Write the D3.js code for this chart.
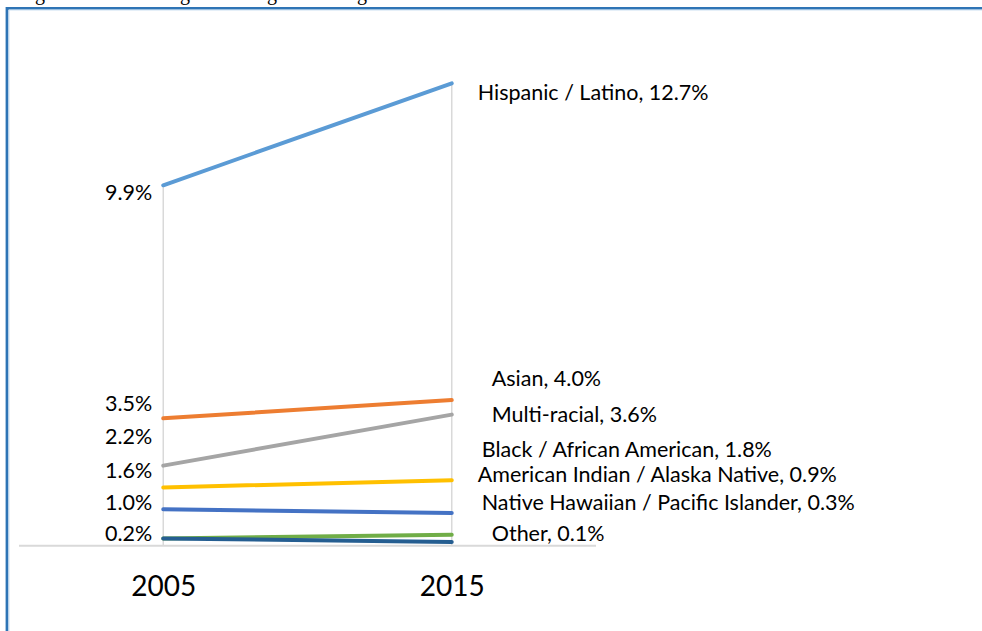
<!DOCTYPE html>
<html>
<head>
<meta charset="utf-8">
<script src="https://cdn.jsdelivr.net/npm/d3@7"></script>
<style>
  html, body { margin: 0; padding: 0; background: #fff; }
  svg { display: block; }
  text { font-family: Lato, "Open Sans", sans-serif; fill: #000; }
</style>
</head>
<body>
<svg id="chart"></svg>
<script>
// data
const years   = ['2005', '2015'];
const groups  = [
  'Hispanic / Latino',
  'Asian',
  'Multi-racial',
  'Black / African American',
  'American Indian / Alaska Native',
  'Native Hawaiian / Pacific Islander',
  'Other'
];
const values2005 = [9.9, 3.5, 2.2, 1.6, 1.0, 0.2, 0.2];
const values2015 = [12.7, 4.0, 3.6, 1.8, 0.9, 0.3, 0.1];

// look
const colors = ['#5b9bd5', '#ed7d31', '#a5a5a5', '#ffc000', '#4472c4', '#70ad47', '#255e91'];

// hand-placed label nudges (Excel moved them apart), in px
const leftNudge  = [7, -15, -29, -17, -7, -5, null];
const rightNudge = [
  {dx: 26, dy: 9},
  {dx: 40, dy: -22},
  {dx: 40, dy: 0},
  {dx: 30, dy: -31},
  {dx: 26, dy: -38},
  {dx: 30, dy: -32},
  {dx: 40, dy: -9}
];

const width  = 982;
const height = 631;

const svg = d3.select('#chart')
  .attr('width', width)
  .attr('height', height);

const series = groups.map((name, i) => ({
  name,
  color:  colors[i],
  points: [
    {year: years[0], v: values2005[i]},
    {year: years[1], v: values2015[i]}
  ]
}));

const x = d3.scalePoint().domain(years).range([19, 596]).padding(0.5);
const y = d3.scaleLinear().domain([0, 14]).range([545.7, 36]);

// cut-off line of the caption above the frame
svg.append('text')
  .attr('y', 0)
  .style('font-family', '"Liberation Serif", serif')
  .style('font-size', '20px')
  .selectAll('tspan')
  .data([35, 180, 267, 357])
  .join('tspan')
  .attr('x', d => d)
  .text('g');

// frame
svg.append('path')
  .attr('d', `M7,${height} V8.3 H${width}`)
  .attr('fill', 'none')
  .attr('stroke', '#2e74b5')
  .attr('stroke-width', 2.8);
svg.append('path')
  .attr('d', `M8.9,${height} V9.9 H${width}`)
  .attr('fill', 'none')
  .attr('stroke', '#bdd7ee')
  .attr('stroke-width', 1);

// drop lines from the top value of each year
svg.append('g')
  .selectAll('line')
  .data(years)
  .join('line')
  .attr('x1', d => x(d))
  .attr('x2', d => x(d))
  .attr('y1', (d, i) => y(d3.max(i ? values2015 : values2005)))
  .attr('y2', y(0))
  .attr('stroke', '#d9d9d9')
  .attr('stroke-width', 1.5);

// category axis
const xAxis = svg.append('g')
  .attr('transform', `translate(0,${y(0)})`)
  .call(d3.axisBottom(x).tickSize(0).tickPadding(30));
xAxis.select('.domain')
  .attr('d', `M${x.range()[0]},0H${x.range()[1]}`)
  .attr('stroke', '#d9d9d9')
  .attr('stroke-width', 2);
xAxis.selectAll('text')
  .style('font-family', 'Lato, sans-serif')
  .style('font-size', '28px')
  .attr('fill', '#000');

// lines
const line = d3.line().x(d => x(d.year)).y(d => y(d.v));
svg.append('g')
  .selectAll('path')
  .data(series)
  .join('path')
  .attr('d', d => line(d.points))
  .attr('fill', 'none')
  .attr('stroke', d => d.color)
  .attr('stroke-width', 4)
  .attr('stroke-linecap', 'round');

// left labels (2005)
svg.append('g')
  .selectAll('text')
  .data(series.filter((d, i) => leftNudge[i] !== null))
  .join('text')
  .attr('x', x(years[0]) - 11)
  .attr('y', (d, i) => y(d.points[0].v) + leftNudge[i])
  .attr('dy', '0.35em')
  .attr('text-anchor', 'end')
  .style('font-size', '21.5px')
  .text(d => d3.format('.1f')(d.points[0].v) + '%');

// right labels (2015)
svg.append('g')
  .selectAll('text')
  .data(series)
  .join('text')
  .attr('x', (d, i) => x(years[1]) + rightNudge[i].dx)
  .attr('y', (d, i) => y(d.points[1].v) + rightNudge[i].dy)
  .attr('dy', '0.35em')
  .style('font-size', '21.5px')
  .text(d => `${d.name}, ${d3.format('.1f')(d.points[1].v)}%`);
</script>
</body>
</html>
